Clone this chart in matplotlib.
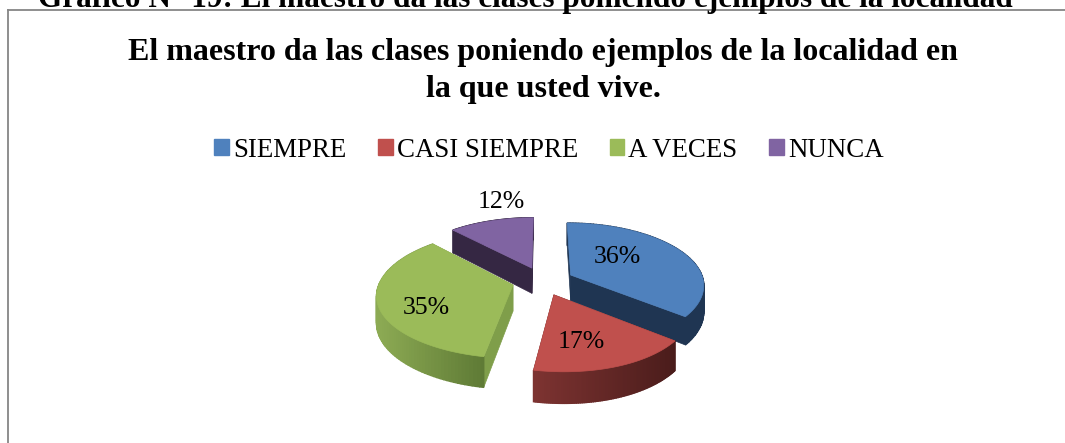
import numpy as np
import matplotlib
matplotlib.use("Agg")
import matplotlib.pyplot as plt
from matplotlib.colors import to_rgb
from matplotlib.patches import Patch, Polygon

categories = ["SIEMPRE", "CASI SIEMPRE", "A VECES", "NUNCA"]
values = [36, 17, 35, 12]
page_title = "Gráfico N° 19: El maestro da las clases poniendo ejemplos de la localidad"
chart_title = "El maestro da las clases poniendo ejemplos de la localidad en\nla que usted vive."

top_colors = ["#4f81bd", "#c0504d", "#9bbb59", "#8064a2"]
wall_left = ["#1f3552", "#7d3331", "#8dab54", "#352743"]
wall_right = ["#1f3552", "#4a1c1b", "#5e7a35", "#352743"]
face_colors = ["#1f3552", "#5a2321", "#7f9e4a", "#352743"]
label_offsets = [(47, -20), (27, 46), (-87, 21), (-31, -68)]

CX, CY, BX, AY, P, EXPL, THICK, SHEAR = 543, 281, 133, 61.2, 0.146, 0.233, 26, 4.6

plt.rcParams["font.family"] = ["Liberation Serif", "DejaVu Serif"]
fig = plt.figure(figsize=(10.65, 4.43), dpi=100)
ax = fig.add_axes([0, 0, 1, 1])
ax.set_xlim(0, 1065)
ax.set_ylim(443, 0)
ax.axis("off")


def project(x, y, drop=0.0):
    d = 1 - P * y
    return CX + BX * x / d + SHEAR * max(y, 0) ** 3, CY + AY * y / d + drop * THICK / d


def quad(pts, color, z, lw=0.5):
    ax.add_patch(Polygon(pts, closed=True, facecolor=color, edgecolor=color, linewidth=lw, zorder=z))


fractions = np.array(values, dtype=float) / sum(values)
starts = np.concatenate([[0], np.cumsum(fractions)[:-1]]) * 2 * np.pi
ends = np.cumsum(fractions) * 2 * np.pi
draw_order = [3, 0, 2, 1]
apexes = {}

for layer, i in enumerate(draw_order):
    s, e = starts[i], ends[i]
    mid = (s + e) / 2
    ax0, ay0 = EXPL * np.sin(mid), -EXPL * np.cos(mid)
    apexes[i] = project(ax0, ay0)
    th = np.linspace(s, e, 90)
    rx, ry = ax0 + np.sin(th), ay0 - np.cos(th)
    base = layer * 10
    # radial faces
    for t in (s, e):
        ex, ey = ax0 + np.sin(t), ay0 - np.cos(t)
        quad([project(ax0, ay0), project(ex, ey), project(ex, ey, 1), project(ax0, ay0, 1)], face_colors[i], base + 1)
    # outer wall with a left-to-right shade
    xs_top = np.array([project(a, b)[0] for a, b in zip(rx, ry)])
    lo, hi = xs_top.min(), xs_top.max()
    cl, cr = np.array(to_rgb(wall_left[i])), np.array(to_rgb(wall_right[i]))
    for k in range(len(th) - 1):
        f = ((xs_top[k] + xs_top[k + 1]) / 2 - lo) / (hi - lo)
        quad([project(rx[k], ry[k]), project(rx[k + 1], ry[k + 1]),
              project(rx[k + 1], ry[k + 1], 1), project(rx[k], ry[k], 1)],
             tuple(cl + (cr - cl) * f), base + 2, lw=1.0)
    # top
    top = [project(ax0, ay0)] + [project(a, b) for a, b in zip(rx, ry)]
    quad(top, top_colors[i], base + 3)

for i, v in enumerate(values):
    ax.text(apexes[i][0] + label_offsets[i][0], apexes[i][1] + label_offsets[i][1] + 1.5, f"{v}%",
            ha="center", va="center", fontsize=18.5, color="black", zorder=100)

# Frame: only the top and left rules are inside the picture
ax.plot([8, 1065], [10, 10], color="#868686", linewidth=1.3, zorder=0)
ax.plot([8, 8], [10, 443], color="#868686", linewidth=1.3, zorder=0)

ax.text(525, -1, page_title, ha="center", va="center", fontsize=22.5, fontweight="bold", color="black")
ax.text(543, 71, chart_title, ha="center", va="center", fontsize=23, fontweight="bold",
        color="black", linespacing=1.35)

handles = [Patch(facecolor=c, edgecolor=c, label=n) for c, n in zip(top_colors, categories)]
ax.legend(handles=handles, loc="center", bbox_to_anchor=(549 / 1065, 1 - 150 / 443), ncol=4,
          frameon=False, fontsize=19.4, handlelength=0.55, handleheight=0.55, handletextpad=0.15,
          columnspacing=1.17, borderpad=0)

fig.savefig("out.png", dpi=100, facecolor="white")
